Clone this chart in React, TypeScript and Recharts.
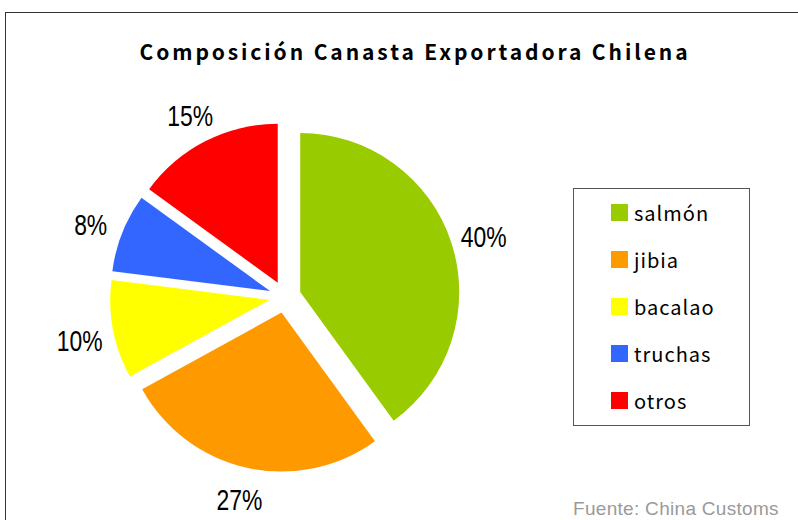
import { Cell, Legend, Pie, PieChart } from "recharts";

const categories = ["salmón", "jibia", "bacalao", "truchas", "otros"];
const shares = [40, 27, 10, 8, 15];
const colors = ["#99CC00", "#FF9900", "#FFFF00", "#3366FF", "#FF0000"];

const CX = 285;
const CY = 297;
const RADIUS = 159;
const EXPLODE = 16;
const LABEL_RADIUS = 209;
const RAD = Math.PI / 180;

const data = categories.map((name, i) => ({ name, value: shares[i] }));
const total = shares.reduce((a, b) => a + b, 0);

// middle angle of each slice (recharts convention: ccw from 3 o'clock), clockwise from 12
const midAngles = shares.map((v, i) => {
  const before = shares.slice(0, i).reduce((a, b) => a + b, 0);
  return 90 - (360 * (before + v / 2)) / total;
});

const sans = "'Liberation Sans', Arial, sans-serif";
const gothic = "'Noto Sans CJK JP', 'Noto Sans', sans-serif";

function LegendBox() {
  return (
    <div
      style={{
        width: 175,
        height: 236,
        border: "1.5px solid #555",
        background: "#fff",
        position: "relative",
        fontFamily: gothic,
      }}
    >
      {categories.map((name, i) => (
        <div
          key={name}
          style={{
            position: "absolute",
            left: 37,
            top: 8 + i * 47,
            height: 30,
            display: "flex",
            alignItems: "center",
          }}
        >
          <span style={{ width: 17, height: 17, background: colors[i], display: "inline-block" }} />
          <span style={{ marginLeft: 6, fontSize: 20, letterSpacing: 1, color: "#000" }}>{name}</span>
        </div>
      ))}
    </div>
  );
}

export default function App() {
  return (
    <div
      style={{
        position: "fixed",
        left: 0,
        top: 0,
        width: 798,
        height: 520,
        background: "#fff",
        overflow: "hidden",
      }}
    >
      <div
        style={{
          position: "absolute",
          left: 5,
          top: 12,
          width: 820,
          height: 540,
          border: "1.5px solid #333",
        }}
      />
      <div
        style={{
          position: "absolute",
          left: 0,
          top: 36,
          width: 830,
          textAlign: "center",
          fontFamily: gothic,
          fontWeight: 700,
          fontSize: 21,
          letterSpacing: 2.9,
          color: "#000",
        }}
      >
        Composición Canasta Exportadora Chilena
      </div>
      <div style={{ position: "absolute", left: 0, top: 0 }}>
        <PieChart width={798} height={520} margin={{ top: 0, right: 0, bottom: 0, left: 0 }}>
          {shares.map((_, i) => {
            const dx = Math.cos(midAngles[i] * RAD) * EXPLODE;
            const dy = -Math.sin(midAngles[i] * RAD) * EXPLODE;
            return (
              <Pie
                key={categories[i]}
                data={data}
                dataKey="value"
                nameKey="name"
                cx={CX + dx}
                cy={CY + dy}
                outerRadius={RADIUS}
                startAngle={90}
                endAngle={-270}
                stroke="none"
                isAnimationActive={false}
                labelLine={false}
                legendType="none"
                label={(p: any) => {
                  if (p.index !== i) return null;
                  const x = CX + LABEL_RADIUS * Math.cos(-p.midAngle * RAD);
                  const baseY = CY + LABEL_RADIUS * Math.sin(-p.midAngle * RAD);
                  // digits sit above the em centre; nudge down, except the label at the bottom edge
                  const y = baseY > 450 ? baseY - 1 : baseY + 5;
                  return (
                    <text
                      transform={`translate(${x},${y}) scale(0.79,1)`}
                      x={0}
                      y={0}
                      textAnchor="middle"
                      dominantBaseline="central"
                      fontFamily={sans}
                      fontSize={29}
                      fill="#000"
                    >
                      {`${Math.round(p.percent * 100)}%`}
                    </text>
                  );
                }}
              >
                {data.map((d, j) => (
                  <Cell key={d.name} fill={j === i ? colors[j] : "transparent"} />
                ))}
              </Pie>
            );
          })}
          <Legend
            layout="vertical"
            align="right"
            verticalAlign="top"
            wrapperStyle={{ position: "absolute", left: 573, top: 188, width: 178 }}
            content={() => <LegendBox />}
          />
        </PieChart>
      </div>
      <div
        style={{
          position: "absolute",
          left: 573,
          top: 498,
          lineHeight: "22px",
          fontFamily: sans,
          fontSize: 19,
          letterSpacing: 0.3,
          color: "#9a9a9a",
          whiteSpace: "nowrap",
        }}
      >
        Fuente: China Customs
      </div>
    </div>
  );
}
